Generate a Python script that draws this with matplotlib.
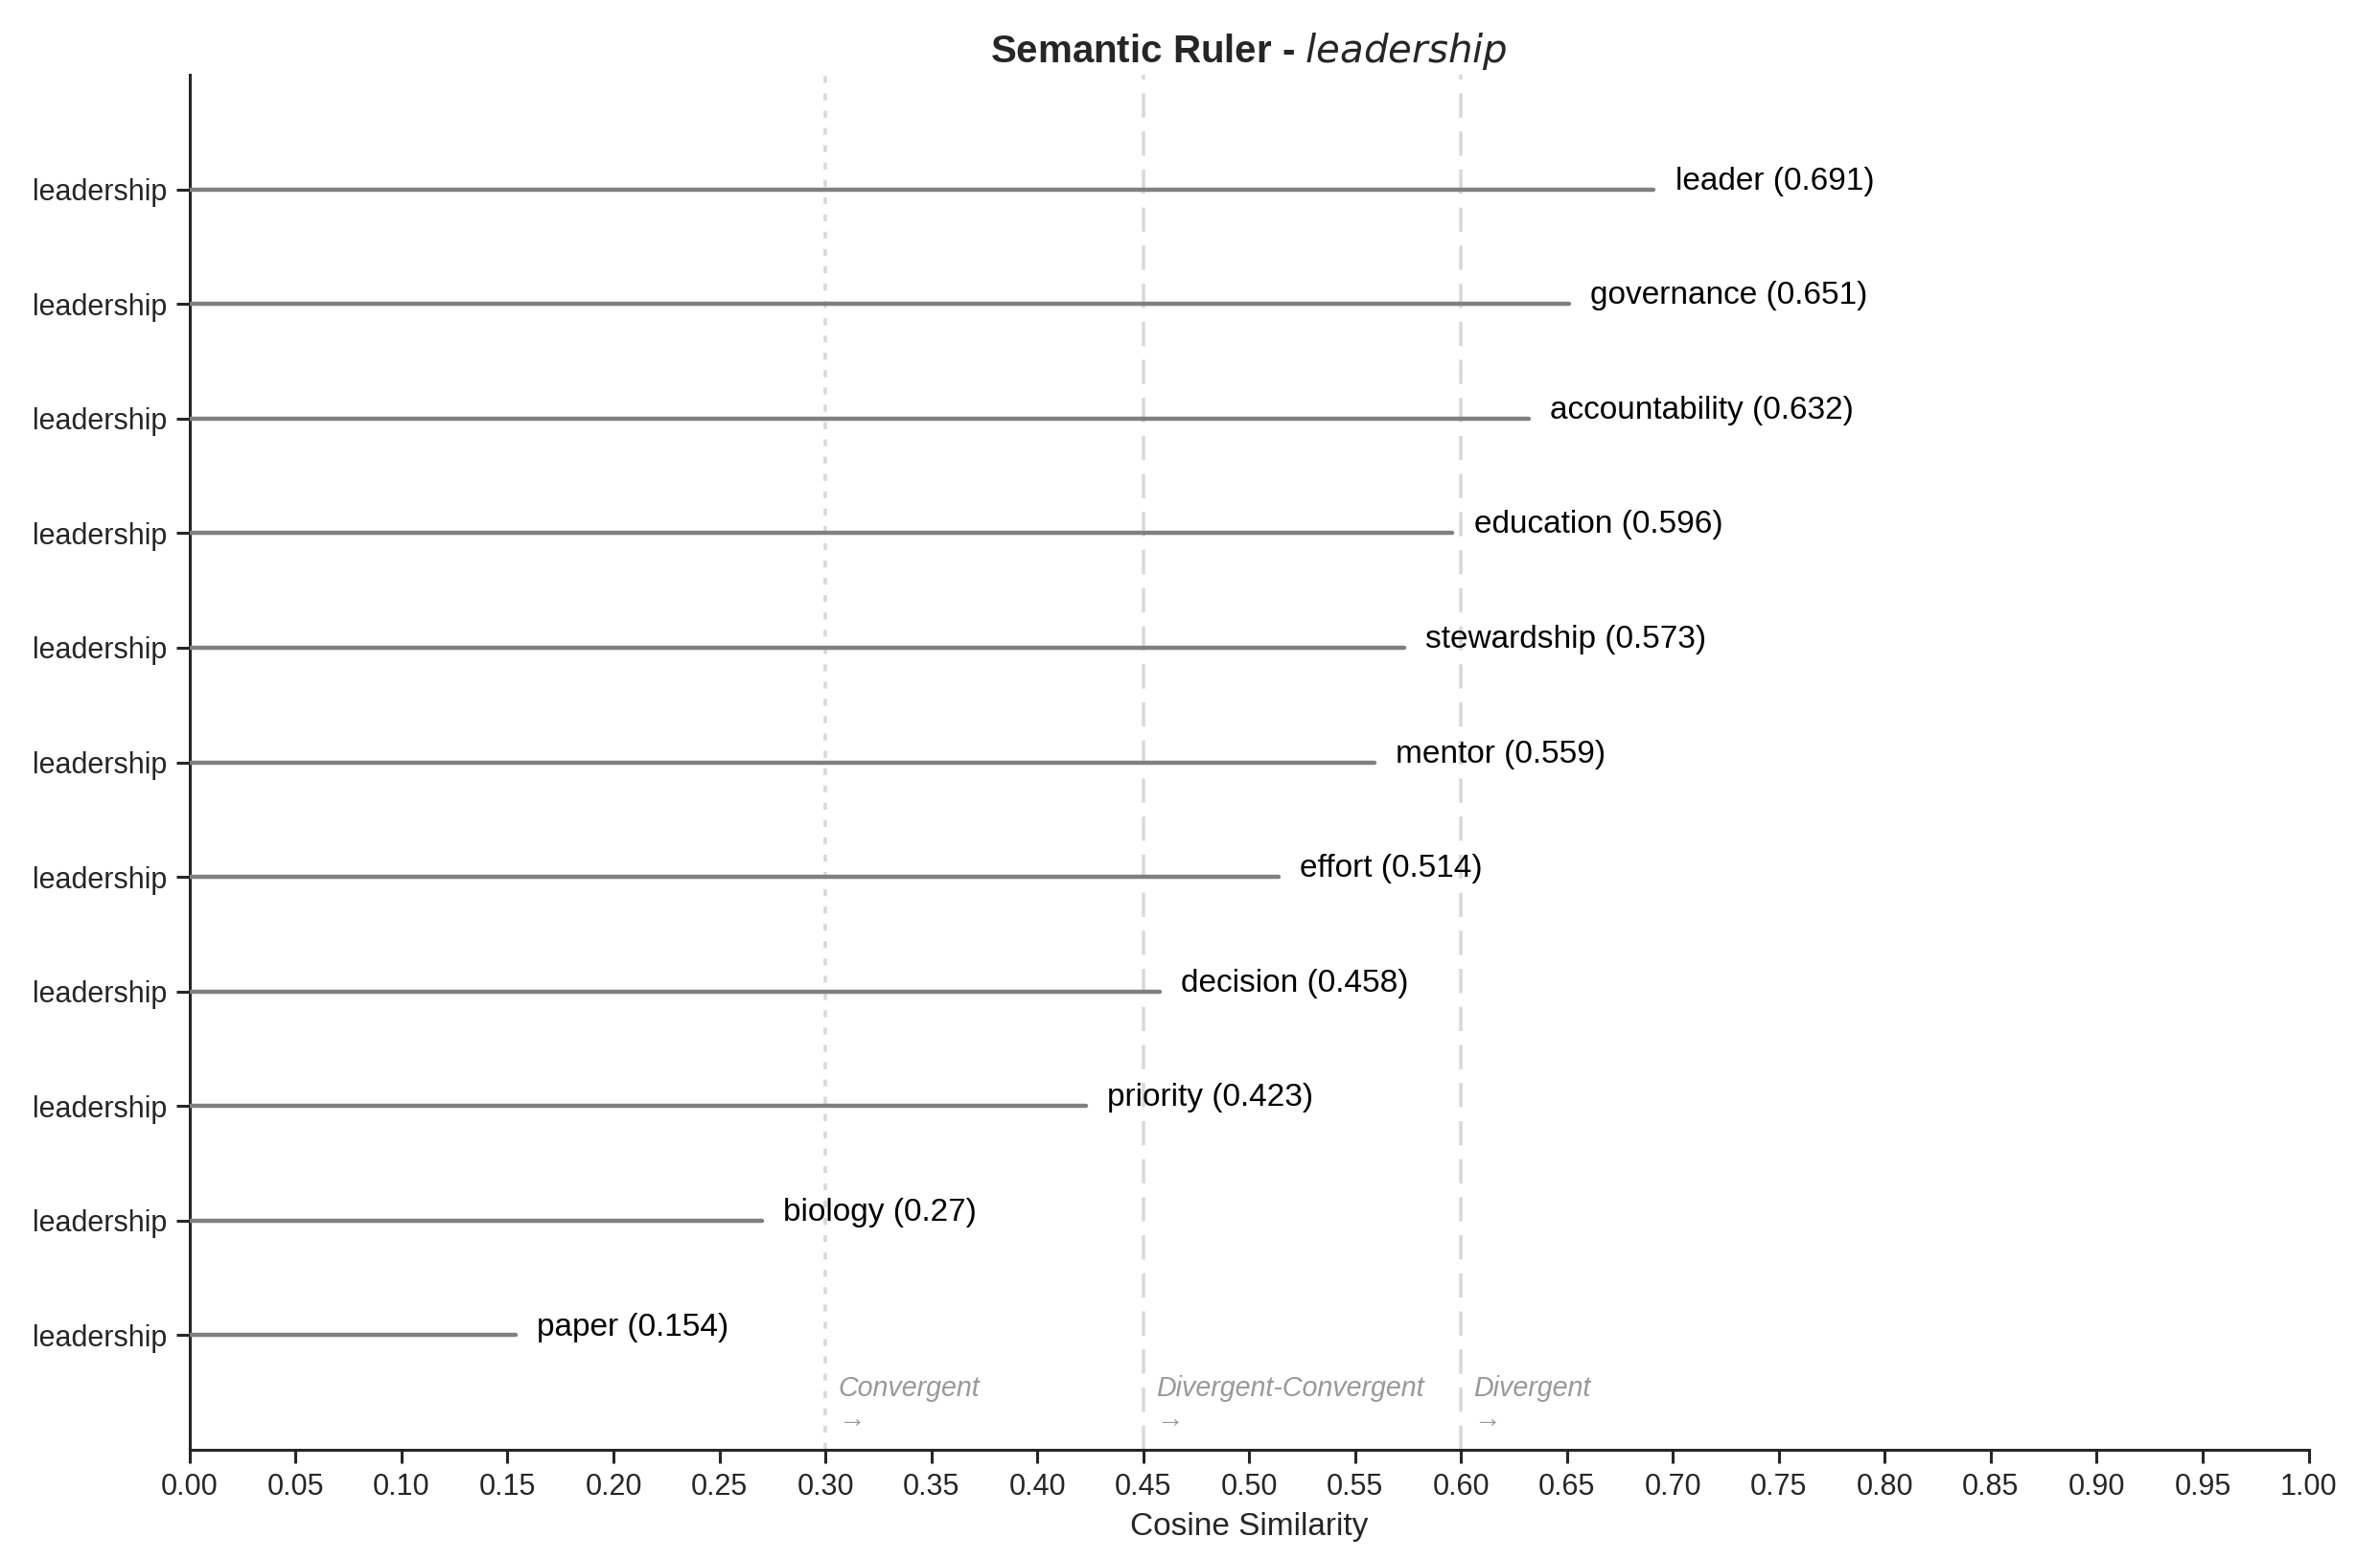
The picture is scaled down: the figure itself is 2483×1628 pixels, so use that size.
import numpy as np
import matplotlib
matplotlib.use("Agg")
import matplotlib.pyplot as plt

plt.rcParams["font.family"] = ["Liberation Sans", "DejaVu Sans"]

SOURCE = "leadership"
words = ["paper", "biology", "priority", "decision", "effort", "mentor",
         "stewardship", "education", "accountability", "governance", "leader"]
scores = [0.154, 0.27, 0.423, 0.458, 0.514, 0.559, 0.573, 0.596, 0.632, 0.651, 0.691]
bands = ["Convergent", "Divergent-Convergent", "Divergent"]
band_starts = [0.30, 0.45, 0.60]
band_styles = [(0, (2, 3)), (0, (7, 4)), (0, (7, 4))]

TEXT = "#262626"
LINE = "#808080"
GUIDE = "#d9d9d9"

fig = plt.figure(figsize=(12.415, 8.14), dpi=200)
ax = fig.add_axes([0.0797, 0.0706, 0.8903, 0.8815])

ypos = np.arange(len(words))
for y, w, s in zip(ypos, words, scores):
    ax.plot([0, s], [y, y], color=LINE, lw=1.6, solid_capstyle="round", zorder=3)
    ax.text(s + 0.01, y + 0.07, f"{w} ({s:g})", fontsize=12, color="black",
            va="center", ha="left")

for x0, name, ls in zip(band_starts, bands, band_styles):
    ax.axvline(x0, color=GUIDE, lw=1.3, linestyle=ls, zorder=1)
    ax.text(x0 + 0.006, -0.6, f"{name}\n\u2192", fontsize=10.3, style="italic",
            color="#999999", va="center", ha="left", linespacing=1.2)

ax.set_xlim(0, 1)
ax.set_ylim(-1, len(words))
ax.set_xticks(np.arange(0, 1.0001, 0.05))
ax.set_xticklabels([f"{v:.2f}" for v in np.arange(0, 1.0001, 0.05)])
ax.set_yticks(ypos)
ax.set_yticklabels([SOURCE] * len(words))
ax.tick_params(axis="both", labelsize=11, colors=TEXT, length=5, width=1.1)
ax.set_xlabel("Cosine Similarity", fontsize=12, color=TEXT, labelpad=4)
ax.set_title(r"Semantic Ruler - $\it{leadership}$", fontsize=14.5, fontweight="bold",
             color=TEXT, pad=4.5)

for side in ["top", "right"]:
    ax.spines[side].set_visible(False)
for side in ["left", "bottom"]:
    ax.spines[side].set_color(TEXT)
    ax.spines[side].set_linewidth(1.1)

fig.savefig("out.png", dpi=200, facecolor="white")
